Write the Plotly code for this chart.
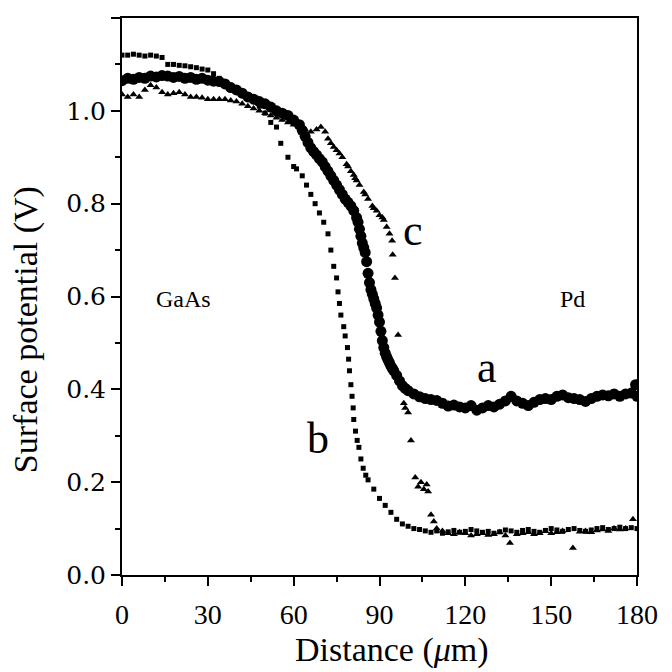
import plotly.graph_objects as go

# === Data ===
# curve a : circles
a_x = [0, 2, 4, 6, 8, 10, 12, 14, 16, 18, 20, 22, 24, 26, 28, 30, 32, 34, 36, 38,
       40, 42, 44, 46, 48, 50, 52, 54, 56, 58, 60, 62, 63, 64, 65, 66, 67, 68, 69, 70,
       71, 72, 73, 74, 75, 76, 77, 78, 79, 80, 81, 82, 82.5, 83, 83.5, 84, 84.5, 85,
       85.5, 86, 86.5, 87, 87.5, 88, 88.5, 89, 89.5, 90, 90.5, 91, 91.5, 92, 92.5, 93,
       93.5, 94, 94.5, 95, 96, 97, 98, 99, 100, 102, 104, 106, 108, 110, 112, 114, 116,
       118, 120, 122, 124, 126, 128, 130, 132, 134, 136, 138, 140, 142, 144, 146, 148,
       150, 152, 154, 156, 158, 160, 162, 164, 166, 168, 170, 172, 174, 176, 178, 179.5,
       180]
a_y = [1.065, 1.07, 1.068, 1.072, 1.07, 1.075, 1.073, 1.076, 1.075, 1.072, 1.074, 1.07,
       1.072, 1.068, 1.07, 1.066, 1.064, 1.063, 1.058, 1.05, 1.045, 1.038, 1.03, 1.025,
       1.02, 1.015, 1.008, 1.0, 0.995, 0.99, 0.98, 0.97, 0.958, 0.945, 0.932, 0.92, 0.912,
       0.905, 0.897, 0.89, 0.88, 0.87, 0.86, 0.85, 0.84, 0.83, 0.82, 0.81, 0.803, 0.795,
       0.785, 0.77, 0.76, 0.745, 0.73, 0.715, 0.705, 0.695, 0.675, 0.65, 0.63, 0.615,
       0.605, 0.595, 0.585, 0.575, 0.56, 0.545, 0.525, 0.505, 0.49, 0.478, 0.47, 0.463,
       0.457, 0.45, 0.445, 0.44, 0.43, 0.418, 0.408, 0.402, 0.397, 0.39, 0.384, 0.38,
       0.378, 0.376, 0.37, 0.364, 0.366, 0.362, 0.36, 0.365, 0.355, 0.36, 0.365, 0.362,
       0.368, 0.375, 0.385, 0.375, 0.37, 0.365, 0.372, 0.378, 0.38, 0.378, 0.385, 0.388,
       0.382, 0.38, 0.378, 0.374, 0.38, 0.385, 0.388, 0.386, 0.39, 0.385, 0.39, 0.392,
       0.41, 0.385]

# curve b : squares
b_x = [0, 2, 4, 6, 8, 10, 12, 14, 16, 18, 20, 22, 24, 26, 28, 30, 32, 34, 36, 38, 40,
       42, 44, 46, 48, 50, 52, 54, 55.5, 58, 60, 61, 63, 64.5, 66, 67.5, 69, 70.5, 72,
       73, 74, 75, 75.5, 76, 76.5, 77.5, 78, 78.8, 79.2, 79.5, 80, 80.4, 80.8, 81, 81.6,
       82.2, 82.8, 83.5, 84.3, 85.2, 86, 88, 90, 92, 94, 96, 98, 100, 102, 104, 106, 108,
       110, 112, 114, 116, 118, 120, 122, 124, 126, 128, 130, 132, 134, 136, 138, 140,
       142, 144, 146, 148, 150, 152, 154, 156, 158, 160, 162, 164, 166, 168, 170, 172,
       174, 176, 178, 180]
b_y = [1.12, 1.12, 1.122, 1.12, 1.118, 1.12, 1.118, 1.115, 1.1, 1.1, 1.098, 1.097,
       1.095, 1.093, 1.09, 1.088, 1.08, 1.07, 1.06, 1.055, 1.045, 1.035, 1.03, 1.02, 1.01,
       0.995, 0.975, 0.965, 0.93, 0.9, 0.88, 0.875, 0.86, 0.84, 0.82, 0.8, 0.78, 0.76,
       0.735, 0.7, 0.665, 0.64, 0.61, 0.585, 0.56, 0.535, 0.515, 0.49, 0.465, 0.44, 0.41,
       0.385, 0.36, 0.335, 0.31, 0.29, 0.275, 0.25, 0.23, 0.215, 0.205, 0.185, 0.165,
       0.15, 0.135, 0.12, 0.11, 0.105, 0.1, 0.098, 0.095, 0.092, 0.095, 0.09, 0.093,
       0.096, 0.092, 0.094, 0.098, 0.095, 0.092, 0.094, 0.09, 0.093, 0.097, 0.095, 0.092,
       0.096, 0.098, 0.094, 0.092, 0.096, 0.1, 0.097, 0.094, 0.098, 0.1, 0.096, 0.094,
       0.097, 0.1, 0.102, 0.098, 0.1, 0.103, 0.1, 0.102, 0.1]

# curve c : triangles
c_x = [0, 2, 4, 6, 8, 10, 12, 14, 16, 18, 20, 22, 24, 26, 28, 30, 32, 34, 36, 38, 40,
       42, 44, 46, 48, 50, 52, 54, 56, 58, 60, 62, 64, 66, 68, 69.5, 71, 72, 73, 74, 75,
       76, 77, 78.5, 79, 80, 81, 81.5, 82, 83, 84.5, 85, 86, 87.5, 88, 89, 90, 91, 91.5,
       92.5, 93.5, 94.4, 94.6, 95.4, 96.5, 98.5, 99, 100, 101, 102.5, 103.5, 104.5, 105.5,
       106.5, 107, 108, 109, 110, 112, 114, 116, 118, 120, 122, 124, 126, 128, 130, 132,
       134, 135.6, 138, 140, 142, 144, 146, 148, 150, 152, 154, 157.6, 160, 162, 164,
       166, 168, 170, 172, 174, 176, 178.6]
c_y = [1.035, 1.03, 1.035, 1.03, 1.045, 1.055, 1.05, 1.04, 1.035, 1.038, 1.04, 1.035,
       1.03, 1.03, 1.028, 1.025, 1.025, 1.025, 1.025, 1.022, 1.02, 1.015, 1.01, 1.005,
       1.0, 0.995, 0.99, 0.985, 0.98, 0.975, 0.97, 0.965, 0.96, 0.955, 0.96, 0.965, 0.955,
       0.94, 0.93, 0.922, 0.915, 0.908, 0.9, 0.885, 0.88, 0.87, 0.862, 0.855, 0.85, 0.84,
       0.825, 0.82, 0.81, 0.795, 0.79, 0.785, 0.775, 0.77, 0.765, 0.75, 0.735, 0.72,
       0.69, 0.64, 0.517, 0.37, 0.36, 0.35, 0.29, 0.21, 0.19, 0.2, 0.185, 0.195, 0.18,
       0.13, 0.115, 0.1, 0.095, 0.09, 0.088, 0.092, 0.09, 0.085, 0.088, 0.09, 0.086,
       0.088, 0.092, 0.085, 0.069, 0.088, 0.09, 0.092, 0.088, 0.09, 0.094, 0.09, 0.092,
       0.095, 0.058, 0.093, 0.095, 0.092, 0.096, 0.098, 0.095, 0.1, 0.098, 0.1, 0.12]

x_ticks = [0, 30, 60, 90, 120, 150, 180]
y_ticks = [0.0, 0.2, 0.4, 0.6, 0.8, 1.0, 1.2]
y_tick_text = ["0.0", "0.2", "0.4", "0.6", "0.8", "1.0", "1.2"]

# (x, y, text, size)
labels = [
    (21.5, 0.594, "GaAs", 24),
    (157.6, 0.594, "Pd", 24),
    (127.6, 0.448, "a", 44),
    (68.5, 0.294, "b", 44),
    (101.8, 0.742, "c", 44),
]

SERIF = "Liberation Serif, Times New Roman, serif"

fig = go.Figure()

fig.add_trace(go.Scatter(x=b_x, y=b_y, mode="markers", name="b",
                         marker=dict(symbol="square", size=5, color="black")))
fig.add_trace(go.Scatter(x=c_x, y=c_y, mode="markers", name="c",
                         marker=dict(symbol="triangle-up", size=7, color="black")))
fig.add_trace(go.Scatter(x=a_x, y=a_y, mode="markers", name="a",
                         marker=dict(symbol="circle", size=11, color="black")))

for x, y, t, s in labels:
    fig.add_annotation(x=x, y=y, text=t, showarrow=False,
                       font=dict(family=SERIF, size=s, color="black"))

# axis titles placed as paper annotations (slightly off-centre in the original)
fig.add_annotation(x=0.525, y=-0.134, xref="paper", yref="paper", text="Distance (<i>μ</i>m)",
                   showarrow=False, xanchor="center", yanchor="middle",
                   font=dict(family=SERIF, size=34, color="black"))
fig.add_annotation(x=-0.186, y=0.44, xref="paper", yref="paper", text="Surface potential (V)",
                   textangle=-90, showarrow=False, xanchor="center", yanchor="middle",
                   font=dict(family=SERIF, size=34, color="black"))

fig.update_layout(
    width=672,
    height=672,
    margin=dict(l=114, r=43, t=8, b=105),
    paper_bgcolor="white",
    plot_bgcolor="white",
    showlegend=False,
    font=dict(family=SERIF, color="black"),
    xaxis=dict(
        range=[0, 180],
        tickvals=x_ticks,
        ticks="outside",
        ticklen=9,
        tickwidth=2,
        tickcolor="black",
        minor=dict(dtick=15, tick0=0, ticks="outside", ticklen=5, tickwidth=2, tickcolor="black"),
        showline=True,
        linecolor="black",
        linewidth=2,
        mirror=True,
        showgrid=False,
        zeroline=False,
        tickfont=dict(size=28),
        ticklabelstandoff=4,
    ),
    yaxis=dict(
        range=[0, 1.2],
        tickvals=y_ticks,
        ticktext=y_tick_text,
        ticks="outside",
        ticklen=9,
        tickwidth=2,
        tickcolor="black",
        minor=dict(dtick=0.1, tick0=0, ticks="outside", ticklen=5, tickwidth=2, tickcolor="black"),
        showline=True,
        linecolor="black",
        linewidth=2,
        mirror=True,
        showgrid=False,
        zeroline=False,
        tickfont=dict(size=25, family="DejaVu Serif"),
    ),
)

fig.write_html("out.html")
